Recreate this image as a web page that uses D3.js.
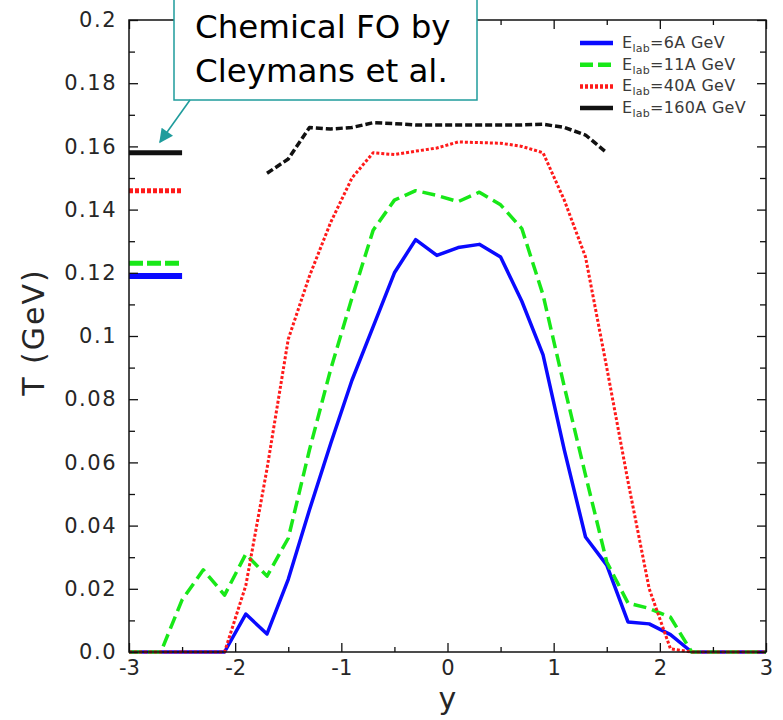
<!DOCTYPE html>
<html>
<head>
<meta charset="utf-8">
<script src="https://cdn.jsdelivr.net/npm/d3@7/dist/d3.min.js"></script>
<style>
  html, body { margin: 0; padding: 0; background: #fff; }
  svg { display: block; }
</style>
</head>
<body>
<svg id="chart" width="783" height="720"></svg>
<script>
// ---------------- DATA ----------------
const rapidity = [-3.0, -2.9, -2.7, -2.5, -2.3, -2.1, -1.9, -1.7, -1.5, -1.3, -1.1, -0.9, -0.7, -0.5, -0.3, -0.1,
                  0.1, 0.3, 0.5, 0.7, 0.9, 1.1, 1.3, 1.5, 1.7, 1.9, 2.1, 2.3, 2.5, 2.7, 2.9, 3.0];

const T_6A   = [0, 0, 0, 0, 0, 0, 0.012, 0.0057, 0.023, 0.045, 0.066, 0.086, 0.103, 0.120, 0.1305, 0.1255,
                0.128, 0.129, 0.125, 0.111, 0.094, 0.064, 0.0364, 0.0275, 0.0095, 0.0089, 0.0055, 0, 0, 0, 0, 0];
const T_11A  = [0, 0, 0, 0.0165, 0.026, 0.018, 0.031, 0.024, 0.036, 0.064, 0.0895, 0.112, 0.1335, 0.143, 0.146, 0.1445,
                0.1425, 0.1455, 0.1415, 0.134, 0.113, 0.084, 0.056, 0.0285, 0.0155, 0.0138, 0.011, 0, 0, 0, 0, 0];
const T_40A  = [0, 0, 0, 0, 0, 0, 0.021, 0.058, 0.099, 0.119, 0.136, 0.150, 0.158, 0.1574, 0.1585, 0.1595,
                0.1614, 0.1612, 0.161, 0.160, 0.158, 0.143, 0.125, 0.090, 0.054, 0.020, 0.001, 0, 0, 0, 0, 0];
const T_160A = [null, null, null, null, null, null, null, 0.1515, 0.156, 0.166, 0.1655, 0.166, 0.1675, 0.1672, 0.1668, 0.1668,
                0.1668, 0.1668, 0.1668, 0.1668, 0.167, 0.166, 0.1636, 0.158, null, null, null, null, null, null, null, null];

const seriesNames = ["6A GeV", "11A GeV", "40A GeV", "160A GeV"];
const seriesValues = [T_6A, T_11A, T_40A, T_160A];
const chemicalFO = [0.119, 0.123, 0.146, 0.158];     // Cleymans et al. values, per series
const chemicalFOSpan = [-3, -2.5];

const xTicks = [-3, -2, -1, 0, 1, 2, 3];
const xTickLabels = ["-3", "-2", "-1", "0", "1", "2", "3"];
const xMinorTicks = [-2.5, -1.5, -0.5, 0.5, 1.5, 2.5];
const yTicks = [0, 0.02, 0.04, 0.06, 0.08, 0.1, 0.12, 0.14, 0.16, 0.18, 0.2];
const yTickLabels = ["0.0", "0.02", "0.04", "0.06", "0.08", "0.1", "0.12", "0.14", "0.16", "0.18", "0.2"];
const yMinorTicks = [0.01, 0.03, 0.05, 0.07, 0.09, 0.11, 0.13, 0.15, 0.17, 0.19];

const calloutLines = ["Chemical FO by", "Cleymans et al."];

// ---------------- STYLES ----------------
const styles = [
  { color: "#0a0aff", width: 3.5, dash: null,  legDash: null,  foWidth: 6, foDash: null },
  { color: "#18e818", width: 3.5, dash: "13,6", legDash: "13,5", foWidth: 5, foDash: "14,4" },
  { color: "#ff1a1a", width: 3,   dash: "3,2",  legDash: "3,2",  foWidth: 5, foDash: "4,2" },
  { color: "#111111", width: 3.5, dash: "7,3",  legDash: null,  foWidth: 5, foDash: null }
];

// ---------------- LAYOUT ----------------
const svg = d3.select("#chart");
const L = 129, R = 766, Tp = 20, B = 652;
const x = d3.scaleLinear().domain([-3, 3]).range([L, R]);
const y = d3.scaleLinear().domain([0, 0.2]).range([B, Tp]);

const tickFont = "DejaVu Sans, sans-serif";
const textColor = "#262626";

// Curves
const plot = svg.append("g");
seriesValues.forEach((vals, i) => {
  const pts = rapidity.map((r, k) => ({ r, t: vals[k] }));
  const line = d3.line().defined(d => d.t !== null).x(d => x(d.r)).y(d => y(d.t));
  plot.append("path")
    .datum(pts)
    .attr("d", line)
    .attr("fill", "none")
    .attr("stroke", styles[i].color)
    .attr("stroke-width", styles[i].width)
    .attr("stroke-dasharray", styles[i].dash)
    .attr("stroke-linejoin", "round");
});

// Chemical freeze-out markers on the left
chemicalFO.forEach((v, i) => {
  plot.append("line")
    .attr("x1", x(chemicalFOSpan[0])).attr("x2", x(chemicalFOSpan[1]))
    .attr("y1", y(v)).attr("y2", y(v))
    .attr("stroke", styles[i].color)
    .attr("stroke-width", styles[i].foWidth)
    .attr("stroke-dasharray", styles[i].foDash);
});

// Axes
function styleAxis(g) {
  g.select(".domain").remove();
  g.selectAll(".tick line").attr("stroke", "#111").attr("stroke-width", 1.3);
  g.selectAll("text").attr("fill", textColor).attr("font-family", tickFont);
}

// bottom
svg.append("g").attr("transform", `translate(0,${B})`)
  .call(d3.axisBottom(x).tickValues(xTicks).tickSize(-9).tickPadding(8)
        .tickFormat((d, i) => xTickLabels[i]))
  .call(styleAxis)
  .selectAll("text").attr("font-size", 21).attr("dy", "0.71em");
svg.append("g").attr("transform", `translate(0,${B})`)
  .call(d3.axisBottom(x).tickValues(xMinorTicks).tickSize(-5).tickFormat(""))
  .call(styleAxis);
// top
svg.append("g").attr("transform", `translate(0,${Tp})`)
  .call(d3.axisTop(x).tickValues(xTicks).tickSize(-9).tickFormat(""))
  .call(styleAxis);
svg.append("g").attr("transform", `translate(0,${Tp})`)
  .call(d3.axisTop(x).tickValues(xMinorTicks).tickSize(-5).tickFormat(""))
  .call(styleAxis);
// left
svg.append("g").attr("transform", `translate(${L},0)`)
  .call(d3.axisLeft(y).tickValues(yTicks).tickSize(-9).tickPadding(12)
        .tickFormat((d, i) => yTickLabels[i]))
  .call(styleAxis)
  .selectAll("text").attr("font-size", 21).attr("letter-spacing", "1.5px");
svg.append("g").attr("transform", `translate(${L},0)`)
  .call(d3.axisLeft(y).tickValues(yMinorTicks).tickSize(-6).tickFormat(""))
  .call(styleAxis);
// right
svg.append("g").attr("transform", `translate(${R},0)`)
  .call(d3.axisRight(y).tickValues(yTicks).tickSize(-9).tickFormat(""))
  .call(styleAxis);
svg.append("g").attr("transform", `translate(${R},0)`)
  .call(d3.axisRight(y).tickValues(yMinorTicks).tickSize(-6).tickFormat(""))
  .call(styleAxis);

// Frame
svg.append("rect")
  .attr("x", L).attr("y", Tp).attr("width", R - L).attr("height", B - Tp)
  .attr("fill", "none").attr("stroke", "#111").attr("stroke-width", 1.5);

// Axis titles
svg.append("text")
  .attr("x", (L + R) / 2).attr("y", 709)
  .attr("text-anchor", "middle")
  .attr("font-family", tickFont).attr("font-size", 30)
  .attr("fill", textColor)
  .text("y");
svg.append("text")
  .attr("transform", `translate(44,${(Tp + B) / 2 - 4}) rotate(-90)`)
  .attr("text-anchor", "middle")
  .attr("font-family", tickFont).attr("font-size", 30)
  .attr("letter-spacing", "2px")
  .attr("fill", textColor)
  .text("T (GeV)");

// Legend
const leg = svg.append("g");
const legX0 = 580, legX1 = 613, legY0 = 43, legDy = 21.7;
seriesNames.forEach((name, i) => {
  const yy = legY0 + i * legDy;
  leg.append("line")
    .attr("x1", legX0).attr("x2", legX1).attr("y1", yy).attr("y2", yy)
    .attr("stroke", styles[i].color).attr("stroke-width", 4.5)
    .attr("stroke-dasharray", styles[i].legDash);
  const t = leg.append("text")
    .attr("x", 622).attr("y", yy + 5)
    .attr("font-family", tickFont).attr("font-size", 16)
    .attr("letter-spacing", "0.3px")
    .attr("fill", "#3a3a3a");
  t.append("tspan").text("E");
  t.append("tspan").attr("font-size", 11).attr("dy", 4).text("lab");
  t.append("tspan").attr("dy", -4).text("=" + name);
});

// Callout box
const teal = "#1f9c9c";
const box = svg.append("g");
box.append("rect")
  .attr("x", 174).attr("y", -4).attr("width", 303).attr("height", 104)
  .attr("fill", "#fff").attr("stroke", teal).attr("stroke-width", 1.5);
calloutLines.forEach((s, i) => {
  box.append("text")
    .attr("x", 195).attr("y", 38 + i * 44)
    .attr("font-family", "DejaVu Sans, sans-serif").attr("font-size", 32.5)
    .attr("fill", "#000")
    .text(s);
});
// Arrow
svg.append("defs").append("marker")
  .attr("id", "arrowhead").attr("viewBox", "0 0 10 10")
  .attr("refX", 9).attr("refY", 5)
  .attr("markerWidth", 16).attr("markerHeight", 14)
  .attr("markerUnits", "userSpaceOnUse")
  .attr("orient", "auto")
  .append("path").attr("d", "M0,0 L10,5 L0,10 Z").attr("fill", teal);
svg.append("line")
  .attr("x1", 190).attr("y1", 100).attr("x2", 160).attr("y2", 142)
  .attr("stroke", teal).attr("stroke-width", 1.6)
  .attr("marker-end", "url(#arrowhead)");
</script>
</body>
</html>
